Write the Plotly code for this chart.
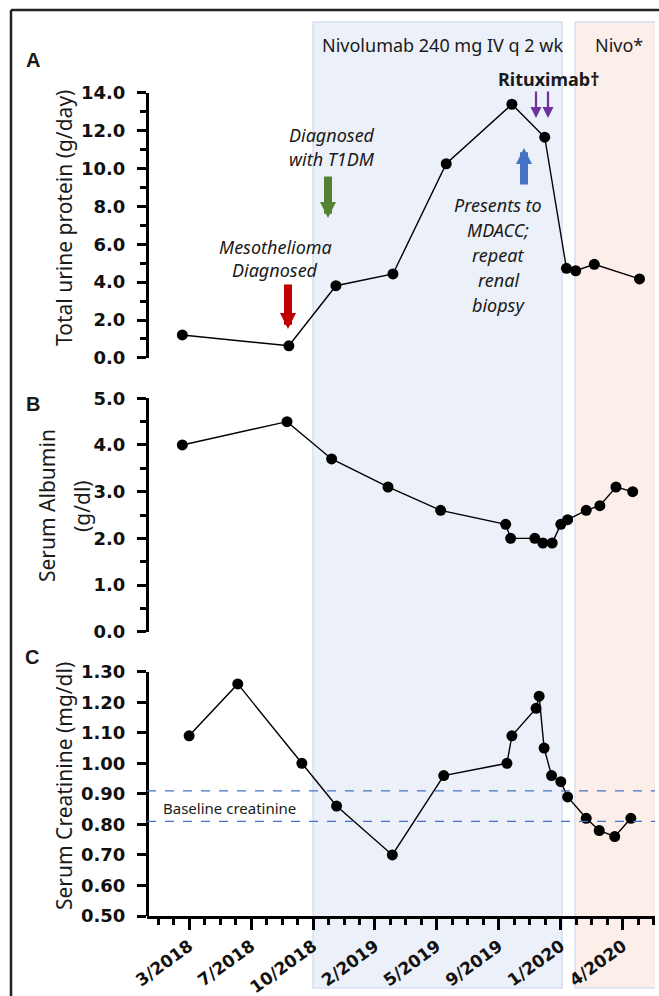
import plotly.graph_objects as go

W, H = 659, 996

# ---------------- data ----------------
X_TICK_POS = [0, 1, 2, 3, 4, 5, 6, 7]
X_TICK_LABELS = ["3/2018", "7/2018", "10/2018", "2/2019", "5/2019", "9/2019", "1/2020", "4/2020"]

protein_x = [-0.11, 1.61, 2.37, 3.29, 4.15, 5.21, 5.74, 6.09, 6.24, 6.54, 7.27]
protein_y = [1.21, 0.64, 3.81, 4.43, 10.25, 13.39, 11.65, 4.73, 4.60, 4.94, 4.17]

albumin_x = [-0.11, 1.58, 2.30, 3.21, 4.06, 5.11, 5.19, 5.58, 5.71, 5.86, 6.00, 6.11, 6.41, 6.63, 6.89, 7.16]
albumin_y = [4.0, 4.5, 3.7, 3.1, 2.6, 2.3, 2.0, 2.0, 1.9, 1.9, 2.3, 2.4, 2.6, 2.7, 3.1, 3.0]

creat_x = [0.0, 0.785, 1.82, 2.38, 3.28, 4.11, 5.13, 5.21, 5.60, 5.65, 5.73, 5.85, 6.00, 6.11, 6.41, 6.62, 6.87, 7.13]
creat_y = [1.09, 1.26, 1.00, 0.86, 0.70, 0.96, 1.00, 1.09, 1.18, 1.22, 1.05, 0.96, 0.94, 0.89, 0.82, 0.78, 0.76, 0.82]

BASELINE_CREAT = [0.91, 0.81]

A_TICKS = [0, 2, 4, 6, 8, 10, 12, 14]
B_TICKS = [0, 1, 2, 3, 4, 5]
C_TICKS = [0.5, 0.6, 0.7, 0.8, 0.9, 1.0, 1.1, 1.2, 1.3]

NIVO_PERIOD = [2.0, 6.02]
NIVO2_PERIOD = [6.23, 7.53]

# ---------------- helpers ----------------
def px(x):
    return x / W

def py(y):
    return 1 - y / H

X_DOM = [px(147), px(655)]
X_RANGE = [-0.68, 7.52]

TICK_FONT = dict(family="DejaVu Sans", size=18, color="#111", weight="bold")
TXT = "#1a1a1a"

fig = go.Figure()

line_style = dict(color="black", width=1.4)
marker_style = dict(color="black", size=11)

fig.add_trace(go.Scatter(x=protein_x, y=protein_y, mode="lines+markers",
                         line=line_style, marker=marker_style, xaxis="x", yaxis="y", showlegend=False))
fig.add_trace(go.Scatter(x=albumin_x, y=albumin_y, mode="lines+markers",
                         line=line_style, marker=marker_style, xaxis="x2", yaxis="y2", showlegend=False))
fig.add_trace(go.Scatter(x=creat_x, y=creat_y, mode="lines+markers",
                         line=line_style, marker=marker_style, xaxis="x3", yaxis="y3", showlegend=False))

yaxis_common = dict(showline=True, linecolor="black", linewidth=3, ticks="outside",
                    ticklen=9, tickwidth=2.5, tickcolor="black", showgrid=False, zeroline=False,
                    tickfont=TICK_FONT, ticklabelstandoff=8, anchor="free", position=X_DOM[0],
                    automargin=False)

hidden_x = dict(domain=X_DOM, range=X_RANGE, visible=False, showgrid=False, zeroline=False,
                automargin=False)

fig.update_layout(
    width=W, height=H,
    autosize=False,
    margin=dict(l=0, r=0, t=0, b=0, pad=0, autoexpand=False),
    paper_bgcolor="white",
    plot_bgcolor="rgba(0,0,0,0)",
    xaxis=dict(hidden_x, anchor="y"),
    xaxis2=dict(hidden_x, anchor="y2"),
    xaxis3=dict(domain=X_DOM, range=X_RANGE, anchor="y3", showline=True, linecolor="black",
                linewidth=2.5, ticks="outside", ticklen=11, tickwidth=2.5, tickcolor="black",
                tickmode="array", tickvals=X_TICK_POS, ticktext=X_TICK_LABELS, tickangle=-36,
                tickfont=dict(family="DejaVu Sans", size=17, color="#111", weight="bold"),
                ticklabelstandoff=0, automargin=False,
                showgrid=False, zeroline=False,
                minor=dict(ticks="outside", tickmode="linear", tick0=0, dtick=0.25,
                           ticklen=6, tickwidth=2.5, tickcolor="black", showgrid=False)),
    yaxis=dict(yaxis_common, domain=[py(357.9), py(92.7)], range=[0, 14],
               tickmode="array", tickvals=A_TICKS, ticktext=[f"{v:.1f}" for v in A_TICKS],
               minor=dict(ticks="outside", tickmode="linear", tick0=0, dtick=1,
                          ticklen=6, tickwidth=2.5, tickcolor="black")),
    yaxis2=dict(yaxis_common, domain=[py(631.7), py(398.3)], range=[0, 5],
                tickmode="array", tickvals=B_TICKS, ticktext=[f"{v:.1f}" for v in B_TICKS],
                minor=dict(ticks="outside", tickmode="linear", tick0=0, dtick=0.5,
                           ticklen=6, tickwidth=2.5, tickcolor="black")),
    yaxis3=dict(yaxis_common, domain=[py(916), py(671.7)], range=[0.5, 1.3],
                tickmode="array", tickvals=C_TICKS, ticktext=[f"{v:.2f}" for v in C_TICKS]),
)

shapes = []
# outer frame (open at right and bottom, as in the cropped original)
shapes.append(dict(type="line", xref="paper", yref="paper", x0=px(11), x1=px(659),
                   y0=py(10), y1=py(10), line=dict(color="#222", width=2.5), layer="below"))
shapes.append(dict(type="line", xref="paper", yref="paper", x0=px(11), x1=px(11),
                   y0=py(10), y1=py(996), line=dict(color="#222", width=2.5), layer="below"))
# treatment periods
shapes.append(dict(type="rect", xref="x3", yref="paper", x0=NIVO_PERIOD[0], x1=NIVO_PERIOD[1],
                   y0=py(988), y1=py(22), fillcolor="#ECF0F9",
                   line=dict(color="#D5DFF1", width=1.5), layer="below"))
shapes.append(dict(type="rect", xref="x3", yref="paper", x0=NIVO2_PERIOD[0], x1=NIVO2_PERIOD[1],
                   y0=py(988), y1=py(22), fillcolor="#FCEFEA",
                   line=dict(color="#D5DFF1", width=1.5), layer="below"))
# baseline creatinine lines
for v in BASELINE_CREAT:
    shapes.append(dict(type="line", xref="x3 domain", yref="y3", x0=0, x1=1, y0=v, y1=v,
                       line=dict(color="#4472C4", width=1.2, dash="dash")))
fig.update_layout(shapes=shapes)

ann = []

def text(x, y, s, size=18, bold=False, italic=False, family="Noto Sans", angle=0, color=TXT):
    if bold:
        s = f"<b>{s}</b>"
    if italic:
        s = f"<i>{s}</i>"
    ann.append(dict(x=px(x), y=py(y), xref="paper", yref="paper", text=s, showarrow=False,
                    font=dict(family=family, size=size, color=color), textangle=angle,
                    xanchor="center", yanchor="middle"))

def arrow(xt, yt, xs, ys, color, width, size):
    ann.append(dict(x=px(xt), y=py(yt), xref="paper", yref="paper", ax=xs - xt, ay=ys - yt,
                    axref="pixel", ayref="pixel", text="", showarrow=True, arrowhead=2,
                    arrowsize=size, arrowwidth=width, arrowcolor=color))

# panel letters
text(33, 60, "A", size=20, bold=True, family="Liberation Sans")
text(33, 404, "B", size=20, bold=True, family="Liberation Sans")
text(32, 657, "C", size=20, bold=True, family="Liberation Sans")

# y titles
text(64, 218, "Total urine protein (g/day)", size=21, angle=-90)
text(47, 506, "Serum Albumin", size=21, angle=-90)
text(82, 506, "(g/dl)", size=21, angle=-90)
text(64, 786, "Serum Creatinine (mg/dl)", size=21, angle=-90)

# period labels
text(442, 45, "Nivolumab 240 mg IV q 2 wk", size=18)
text(619, 45, "Nivo*", size=18)
text(548, 79, "Rituximab†", size=18, bold=True)

# events
text(275, 247, "Mesothelioma", size=18, italic=True)
text(275, 270, "Diagnosed", size=18, italic=True)
text(332, 135, "Diagnosed", size=18, italic=True)
text(332, 159, "with T1DM", size=18, italic=True)
for i, s in enumerate(["Presents to", "MDACC;", "repeat", "renal", "biopsy"]):
    text(498, 205 + 25 * i, s, size=18, italic=True)
text(229, 808, "Baseline creatinine", size=15)

# arrows
arrow(288, 329, 288, 283, "#C00000", 8, 0.4)
arrow(328, 218, 328, 175, "#548235", 8, 0.4)
arrow(524, 148, 524, 186, "#4472C4", 8, 0.4)
arrow(536, 118, 536, 90, "#7030A0", 2.2, 1.0)
arrow(548, 118, 548, 90, "#7030A0", 2.2, 1.0)

fig.update_layout(annotations=ann)

fig.write_html("out.html",
               config=dict(displayModeBar=False, responsive=False),
               post_script="document.body.style.margin='0';document.body.style.padding='0';"
                           "document.body.style.overflow='hidden';")
